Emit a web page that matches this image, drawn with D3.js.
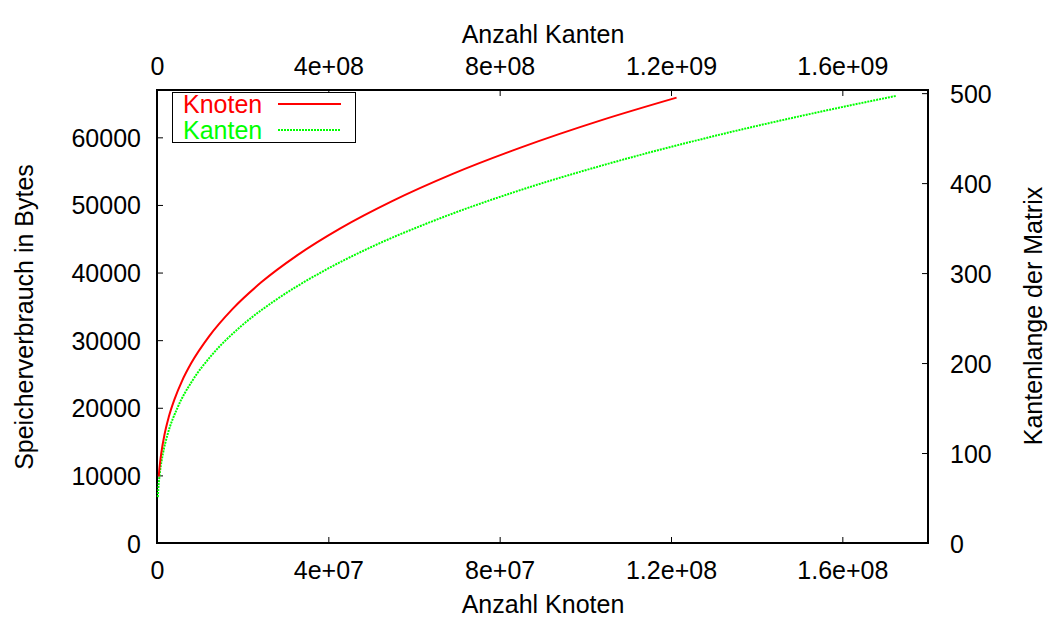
<!DOCTYPE html>
<meta charset="utf-8">
<script src="https://d3js.org/d3.v7.min.js"></script>
<style>
  body { margin: 0; background: #fff; }
  text { font-family: "Liberation Sans", Arial, sans-serif; }
</style>
<div id="chart"></div>
<script>
  // Knoten: Anzahl Knoten (x, unten) gegen Kantenlaenge (y2, rechts)
  var knotenX = [0.4e6, 0.51e6, 0.73e6, 1.0e6, 1.73e6, 2.74e6, 4.1e6, 5.83e6, 8.0e6,
    1.22e7, 1.76e7, 2.44e7, 3.28e7, 4.29e7, 5.49e7, 6.89e7, 8.52e7, 1.038e8, 1.213e8];
  var knotenN = [74, 80, 90, 100, 120, 140, 160, 180, 200,
    230, 260, 290, 320, 350, 380, 410, 440, 470, 495];

  // Kanten: Anzahl Kanten (x2, oben) gegen Kantenlaenge (y2, rechts)
  var kantenX = [1.87e6, 3.04e6, 4.82e6, 7.2e6, 1.41e7, 2.43e7, 4.75e7, 8.2e7, 1.30e8,
    1.94e8, 2.77e8, 3.80e8, 5.05e8, 6.56e8, 8.34e8, 1.042e9, 1.281e9, 1.555e9, 1.726e9];
  var kantenN = [51, 60, 70, 80, 100, 120, 150, 180, 210,
    240, 270, 300, 330, 360, 390, 420, 450, 480, 497];

  var yTicks = [0, 10000, 20000, 30000, 40000, 50000, 60000];
  var y2Ticks = [0, 100, 200, 300, 400, 500];
  var xTicks = [0, 4e7, 8e7, 1.2e8, 1.6e8];
  var xTickLabels = ["0", "4e+07", "8e+07", "1.2e+08", "1.6e+08"];
  var x2Ticks = [0, 4e8, 8e8, 1.2e9, 1.6e9];
  var x2TickLabels = ["0", "4e+08", "8e+08", "1.2e+09", "1.6e+09"];

  var W = 1050, H = 622;
  var margin = { top: 90, right: 122, bottom: 79, left: 157 };
  var width = W - margin.left - margin.right,
    height = H - margin.top - margin.bottom;
  var fs = "25px";

  var svg = d3.select("#chart").append("svg")
    .attr("width", W)
    .attr("height", H);
  var g = svg.append("g")
    .attr("transform", "translate(" + margin.left + "," + margin.top + ")");

  var x = d3.scaleLinear().domain([0, 1.8e8]).range([0, width]);
  var x2 = d3.scaleLinear().domain([0, 1.8e9]).range([0, width]);
  var y = d3.scaleLinear().domain([0, 67000]).range([height, 0]);
  var y2 = d3.scaleLinear().domain([0, 503.5]).range([height, 0]);

  function style(sel) {
    sel.select(".domain").remove();
    sel.selectAll(".tick line").attr("stroke", "#000").attr("stroke-width", 1);
    sel.selectAll(".tick text").attr("font-size", fs).attr("fill", "#000")
      .attr("font-family", "Liberation Sans, Arial, sans-serif");
  }

  g.append("g")
    .call(d3.axisLeft(y).tickValues(yTicks).tickSizeInner(-6).tickSizeOuter(0).tickPadding(16)
      .tickFormat(function (d) { return String(d); }))
    .call(style)
    .selectAll(".tick text").attr("dy", "0.36em");

  g.append("g")
    .attr("transform", "translate(" + width + ",0)")
    .call(d3.axisRight(y2).tickValues(y2Ticks).tickSizeInner(-6).tickSizeOuter(0).tickPadding(22)
      .tickFormat(function (d) { return String(d); }))
    .call(style)
    .selectAll(".tick text").attr("dy", "0.36em");

  g.append("g")
    .attr("transform", "translate(0," + height + ")")
    .call(d3.axisBottom(x).tickValues(xTicks).tickSizeInner(-6).tickSizeOuter(0).tickPadding(0)
      .tickFormat(function (d, i) { return xTickLabels[i]; }))
    .call(style)
    .selectAll(".tick text").attr("dy", "0").attr("y", 36);

  g.append("g")
    .call(d3.axisTop(x2).tickValues(x2Ticks).tickSizeInner(-6).tickSizeOuter(0).tickPadding(0)
      .tickFormat(function (d, i) { return x2TickLabels[i]; }))
    .call(style)
    .selectAll(".tick text").attr("dy", "0").attr("y", -15);

  // frame
  g.append("rect")
    .attr("width", width)
    .attr("height", height)
    .attr("fill", "none")
    .attr("stroke", "#000")
    .attr("stroke-width", 2);

  // axis titles
  svg.append("text").text("Anzahl Kanten")
    .attr("x", 543).attr("y", 43).attr("text-anchor", "middle").attr("font-size", fs);
  svg.append("text").text("Anzahl Knoten")
    .attr("x", 543).attr("y", 613).attr("text-anchor", "middle").attr("font-size", fs);
  svg.append("text").text("Speicherverbrauch in Bytes")
    .attr("transform", "translate(33,317) rotate(-90)")
    .attr("text-anchor", "middle").attr("font-size", fs);
  svg.append("text").text("Kantenlange der Matrix")
    .attr("transform", "translate(1042,316) rotate(-90)")
    .attr("text-anchor", "middle").attr("font-size", fs);

  // lines
  var lineKnoten = d3.line()
    .x(function (d) { return x(d[0]); })
    .y(function (d) { return y2(d[1]); })
    .curve(d3.curveMonotoneX);
  var lineKanten = d3.line()
    .x(function (d) { return x2(d[0]); })
    .y(function (d) { return y2(d[1]); })
    .curve(d3.curveMonotoneX);

  g.append("path")
    .datum(d3.zip(kantenX, kantenN))
    .attr("d", lineKanten)
    .attr("fill", "none")
    .attr("stroke", "#00ff00")
    .attr("stroke-width", 2)
    .attr("stroke-dasharray", "2,1");

  g.append("path")
    .datum(d3.zip(knotenX, knotenN))
    .attr("d", lineKnoten)
    .attr("fill", "none")
    .attr("stroke", "#ff0000")
    .attr("stroke-width", 2);

  // legend
  var leg = svg.append("g");
  leg.append("rect")
    .attr("x", 172.5).attr("y", 92.5).attr("width", 183).attr("height", 50)
    .attr("fill", "#fff").attr("stroke", "#000").attr("stroke-width", 1);
  leg.append("text").text("Knoten")
    .attr("x", 183).attr("y", 113).attr("fill", "#ff0000").attr("font-size", fs);
  leg.append("line")
    .attr("x1", 278).attr("x2", 341).attr("y1", 104).attr("y2", 104)
    .attr("stroke", "#ff0000").attr("stroke-width", 2);
  leg.append("text").text("Kanten")
    .attr("x", 183).attr("y", 139).attr("fill", "#00ff00").attr("font-size", fs);
  leg.append("line")
    .attr("x1", 278).attr("x2", 341).attr("y1", 130).attr("y2", 130)
    .attr("stroke", "#00ff00").attr("stroke-width", 2).attr("stroke-dasharray", "2,1");
</script>
